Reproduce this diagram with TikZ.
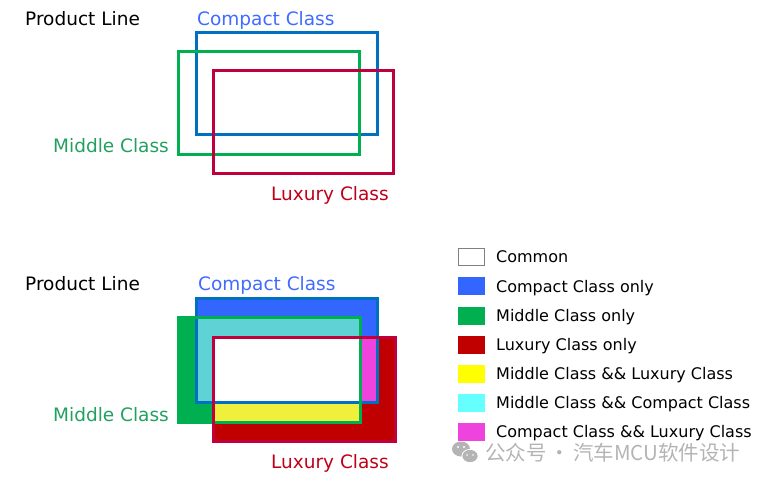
\documentclass[tikz,border=0pt]{standalone}
\usepackage{fontspec}
\setmainfont{DejaVu Sans}
\newfontfamily\cjkfont{Noto Sans CJK SC}
\definecolor{cblue}{HTML}{0070C0}
\definecolor{cbluetxt}{HTML}{3F6BFF}
\definecolor{cbluefill}{HTML}{3366FF}
\definecolor{cgreen}{HTML}{00B050}
\definecolor{cgreentxt}{HTML}{22A060}
\definecolor{cred}{HTML}{C0003C}
\definecolor{credtxt}{HTML}{C00018}
\definecolor{credfill}{HTML}{C00000}
\definecolor{ccyan}{HTML}{5ED2D4}
\definecolor{ccyanleg}{HTML}{66FFFF}
\definecolor{cyellow}{HTML}{F0F03C}
\definecolor{cyellowleg}{HTML}{FFFF00}
\definecolor{cmag}{HTML}{EE44DD}
\definecolor{wmgray}{HTML}{B4B4B4}
\begin{document}
\begin{tikzpicture}[x=1pt,y=-1pt,
  lbl/.style={anchor=base west,inner sep=0pt,font=\fontsize{18.5}{20}\selectfont},
  leg/.style={anchor=base west,inner sep=0pt,font=\fontsize{16}{18}\selectfont},
  sq/.style={minimum width=26pt,minimum height=17pt,inner sep=0pt,anchor=north west,draw=#1,fill=#1,line width=0.6pt},
  ol/.style={line width=3pt,draw=#1}]
\useasboundingbox (0,0) rectangle (761,482);
% ---------- top diagram ----------
\node[lbl] (pl1) at (25,25) {Product Line};
\node[lbl,text=cbluetxt] (cc1) at (197,25) {Compact Class};
\node[lbl,text=cgreentxt] (mc1) at (53,152) {Middle Class};
\node[lbl,text=credtxt] (lc1) at (271,200) {Luxury Class};
\draw[ol=cblue] (196,32) rectangle (377,134);
\draw[ol=cgreen] (178,51) rectangle (359,154);
\draw[ol=cred] (213,70) rectangle (393,173);
% ---------- bottom diagram ----------
\node[lbl] (pl2) at (25,290) {Product Line};
\node[lbl,text=cbluetxt] (cc2) at (198,290) {Compact Class};
\node[lbl,text=cgreentxt] (mc2) at (53,421) {Middle Class};
\node[lbl,text=credtxt] (lc2) at (271,468) {Luxury Class};
\fill[cbluefill] (196,298) rectangle (377,402);
\fill[cgreen] (178,317) rectangle (360,422);
\fill[credfill] (213,337) rectangle (395,441);
\fill[ccyan] (196,317) rectangle (360,402);
\fill[cyellow] (213,337) rectangle (360,422);
\fill[cmag] (213,337) rectangle (377,402);
\fill[white] (213,337) rectangle (360,402);
\draw[ol=cblue] (196,298) rectangle (377,402);
\draw[ol=cgreen] (178,317) rectangle (360,422);
\draw[ol=cred] (213,337) rectangle (395,441);
% ---------- legend ----------
\node[sq=white,draw=gray] (s1) at (458,248) {};
\node[sq=cbluefill] (s2) at (458,277) {};
\node[sq=cgreen] (s3) at (458,307) {};
\node[sq=credfill] (s4) at (458,336) {};
\node[sq=cyellowleg] (s5) at (458,365) {};
\node[sq=ccyanleg] (s6) at (458,394) {};
\node[sq=cmag] (s7) at (458,423) {};
\node[leg] (t1) at (496,262) {Common};
\node[leg] (t2) at (496,292) {Compact Class only};
\node[leg] (t3) at (496,321) {Middle Class only};
\node[leg] (t4) at (496,350) {Luxury Class only};
\node[leg] (t5) at (496,379) {Middle Class \&\& Luxury Class};
\node[leg] (t6) at (496,408) {Middle Class \&\& Compact Class};
\node[leg] (t7) at (496,437) {Compact Class \&\& Luxury Class};
% ---------- watermark ----------
\fill[wmgray] (461,449) ellipse (9pt and 7.5pt);
\fill[wmgray] (470,456) ellipse (8pt and 6.5pt);
\draw[white,line width=1pt] (470,456) ellipse (8pt and 6.5pt);
\fill[wmgray] (470,456) ellipse (7.5pt and 6pt);
\fill[white] (458,447) circle (1.1pt) (464,447) circle (1.1pt) (467,455) circle (0.9pt) (473,455) circle (0.9pt);
\node[anchor=base west,inner sep=0pt,text=wmgray,font=\cjkfont\fontsize{20.5}{22}\selectfont] (wm) at (485,460) {公众号\hspace{3pt}·\hspace{3pt}汽车MCU软件设计};
\end{tikzpicture}
\end{document}
